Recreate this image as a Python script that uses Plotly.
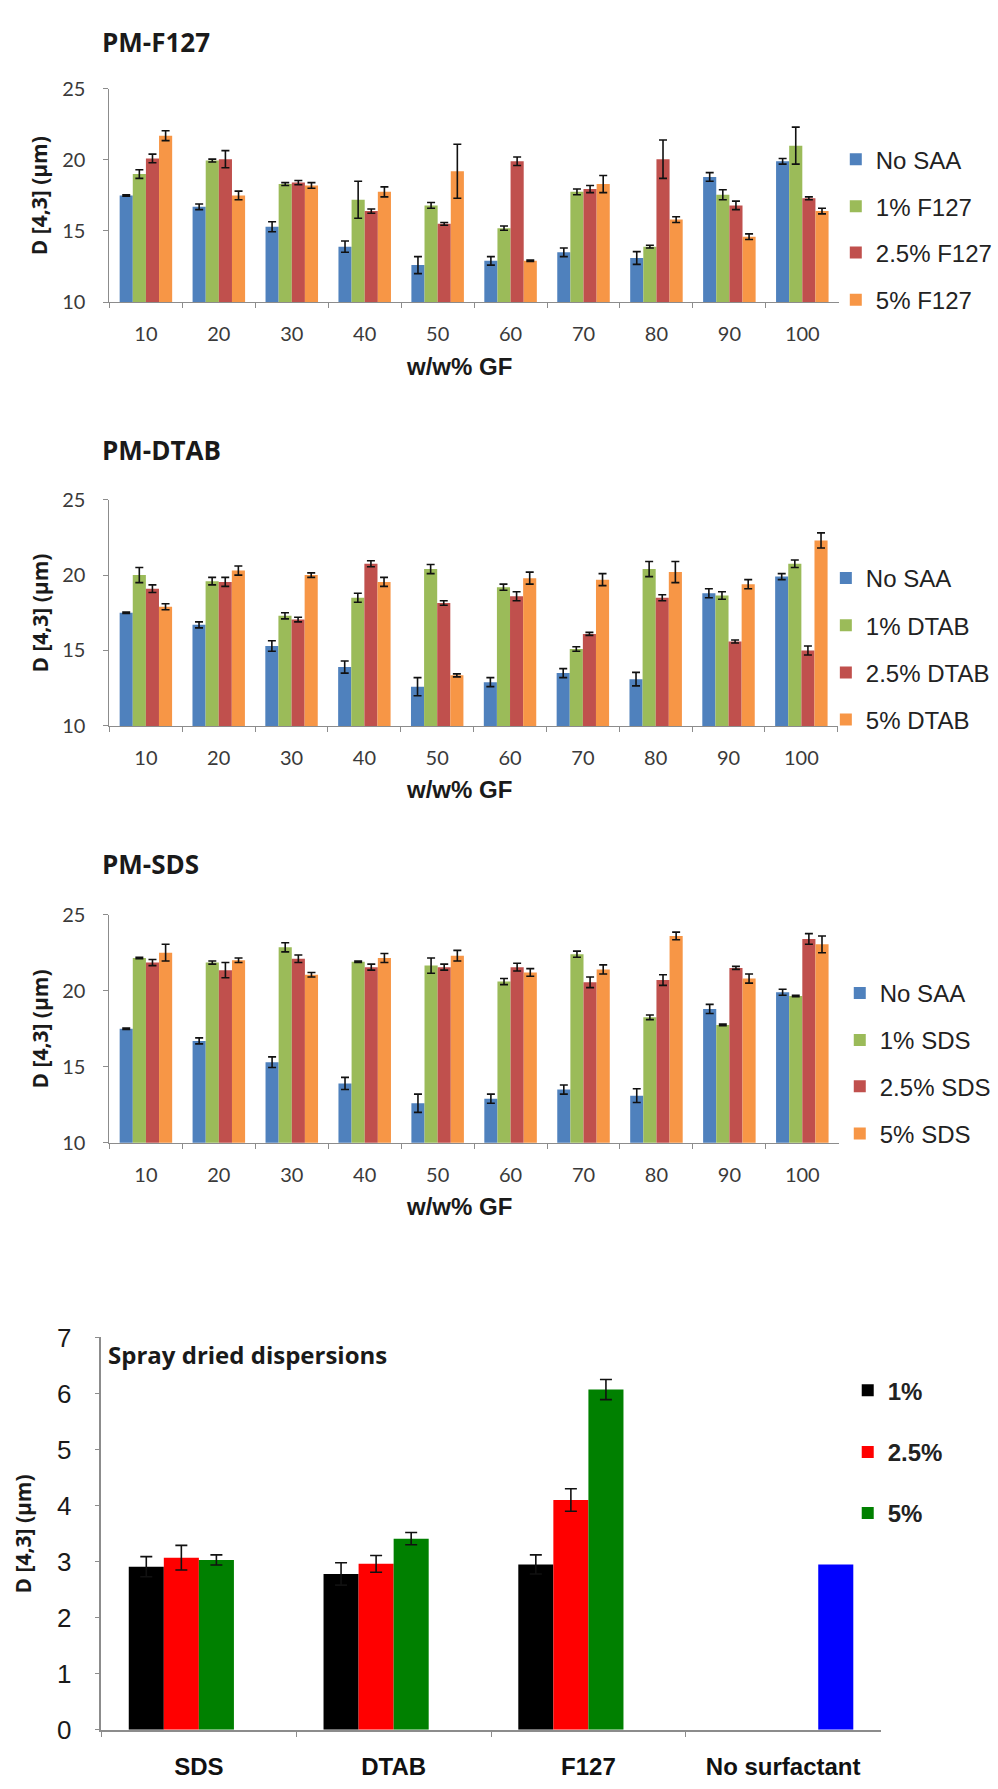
import plotly.graph_objects as go

W, H = 998, 1789

# ---------------- data ----------------
gf_levels = ["10", "20", "30", "40", "50", "60", "70", "80", "90", "100"]

no_saa = [17.5, 16.7, 15.3, 13.9, 12.6, 12.9, 13.5, 13.1, 18.8, 19.9]
no_saa_err = [0.05, 0.2, 0.35, 0.4, 0.6, 0.3, 0.3, 0.45, 0.3, 0.2]

f127_1 = [19.0, 19.95, 18.3, 17.2, 16.8, 15.2, 17.75, 13.9, 17.55, 21.0]
f127_1_err = [0.3, 0.1, 0.1, 1.3, 0.2, 0.15, 0.2, 0.1, 0.35, 1.3]
f127_25 = [20.1, 20.05, 18.4, 16.4, 15.5, 19.9, 17.95, 20.05, 16.8, 17.3]
f127_25_err = [0.3, 0.6, 0.15, 0.15, 0.1, 0.3, 0.25, 1.35, 0.3, 0.1]
f127_5 = [21.7, 17.5, 18.2, 17.75, 19.2, 12.9, 18.3, 15.8, 14.6, 16.4]
f127_5_err = [0.35, 0.3, 0.2, 0.35, 1.9, 0.05, 0.6, 0.2, 0.2, 0.2]

dtab_1 = [20.0, 19.6, 17.3, 18.5, 20.4, 19.2, 15.1, 20.4, 18.65, 20.75]
dtab_1_err = [0.5, 0.25, 0.2, 0.3, 0.3, 0.2, 0.15, 0.5, 0.25, 0.25]
dtab_25 = [19.1, 19.55, 17.05, 20.75, 18.15, 18.6, 16.1, 18.5, 15.6, 15.0]
dtab_25_err = [0.25, 0.3, 0.15, 0.2, 0.15, 0.3, 0.1, 0.2, 0.1, 0.3]
dtab_5 = [17.9, 20.3, 20.0, 19.55, 13.35, 19.8, 19.7, 20.2, 19.4, 22.3]
dtab_5_err = [0.2, 0.3, 0.15, 0.3, 0.1, 0.4, 0.4, 0.7, 0.3, 0.5]

sds_1 = [22.15, 21.85, 22.85, 21.9, 21.65, 20.6, 22.4, 18.25, 17.75, 19.65]
sds_1_err = [0.05, 0.1, 0.3, 0.05, 0.5, 0.2, 0.2, 0.15, 0.05, 0.05]
sds_25 = [21.85, 21.35, 22.1, 21.55, 21.55, 21.55, 20.55, 20.7, 21.5, 23.4]
sds_25_err = [0.2, 0.5, 0.25, 0.2, 0.2, 0.25, 0.35, 0.35, 0.1, 0.35]
sds_5 = [22.5, 22.0, 21.05, 22.15, 22.3, 21.2, 21.4, 23.6, 20.8, 23.05]
sds_5_err = [0.55, 0.15, 0.15, 0.3, 0.35, 0.25, 0.3, 0.25, 0.3, 0.55]

sd_categories = ["SDS", "DTAB", "F127", "No surfactant"]
sd_1 = [2.91, 2.78, 2.95, None]
sd_1_err = [0.18, 0.2, 0.17, 0]
sd_25 = [3.07, 2.96, 4.1, None]
sd_25_err = [0.22, 0.15, 0.2, 0]
sd_5 = [3.03, 3.41, 6.07, None]
sd_5_err = [0.09, 0.11, 0.18, 0]
sd_none = [None, None, None, 2.95]

pm_titles = ["PM-F127", "PM-DTAB", "PM-SDS"]
pm_names = [
    ["No SAA", "1% F127", "2.5% F127", "5% F127"],
    ["No SAA", "1% DTAB", "2.5% DTAB", "5% DTAB"],
    ["No SAA", "1% SDS", "2.5% SDS", "5% SDS"],
]
pm_values = [
    [(no_saa, no_saa_err), (f127_1, f127_1_err), (f127_25, f127_25_err), (f127_5, f127_5_err)],
    [(no_saa, no_saa_err), (dtab_1, dtab_1_err), (dtab_25, dtab_25_err), (dtab_5, dtab_5_err)],
    [(no_saa, no_saa_err), (sds_1, sds_1_err), (sds_25, sds_25_err), (sds_5, sds_5_err)],
]
sd_names = ["1%", "2.5%", "5%"]

# ---------------- styles ----------------
excel_colors = ["#4F81BD", "#9BBB59", "#C0504D", "#F79646"]
sd_colors = ["#000000", "#FF0000", "#008000"]
CAL = "Lato"
BOLDF = "Open Sans"
ARIAL = "Liberation Sans"


def fx(px):
    return px / W


def fy(py):
    return 1 - py / H


# panel pixel geometry: (x0, x1, y_top, y_bottom)
pm_geom = [(110, 843, 75, 292), (110, 842, 493, 723), (110, 843, 915, 1147)]
pm_title_y = [27, 442, 863]
pm_legend_x = [840, 830, 844]
pm_legend_y = [[147, 195, 242, 290], [573, 621, 669, 717], [995, 1043, 1090, 1138]]
sd_geom = (102, 885, 1345, 1744)
sd_legend_x = 852
sd_legend_y = [1399, 1462, 1524]

fig = go.Figure()
annotations = []
layout = {}
leg_count = [0]


def new_legend(x_px, y_px, bold=False):
    leg_count[0] += 1
    key = "legend" if leg_count[0] == 1 else f"legend{leg_count[0]}"
    font = dict(family=ARIAL, size=24, color="#222222")
    if bold:
        font["weight"] = "bold"
    layout[key] = dict(
        x=fx(x_px), xanchor="left", y=fy(y_px), yanchor="middle",
        font=font, bgcolor="rgba(0,0,0,0)", borderwidth=0,
    )
    return key


for p in range(3):
    ax = "" if p == 0 else str(p + 1)
    for j in range(4):
        vals, errs = pm_values[p][j]
        leg = new_legend(pm_legend_x[p], pm_legend_y[p][j])
        fig.add_trace(go.Bar(
            x=gf_levels, y=vals, name=pm_names[p][j],
            marker=dict(color=excel_colors[j], line=dict(width=0)),
            error_y=dict(type="data", array=errs, visible=True, color="#111111",
                         thickness=1.6, width=4),
            xaxis="x" + ax, yaxis="y" + ax, legend=leg,
        ))
    x0, x1, yt, yb = pm_geom[p]
    layout["xaxis" + ax] = dict(
        domain=[fx(x0), fx(x1)], anchor="y" + ax, type="category",
        showline=True, linecolor="#8c8c8c", linewidth=1,
        ticks="outside", tickson="boundaries", ticklen=5, tickcolor="#8c8c8c",
        tickfont=dict(family=CAL, size=20, color="#3a3a3a"),
        ticklabelstandoff=14, showgrid=False, fixedrange=True,
    )
    layout["yaxis" + ax] = dict(
        domain=[fy(yb), fy(yt)], anchor="x" + ax, range=[10, 25], dtick=5,
        showline=True, linecolor="#8c8c8c", linewidth=1,
        ticks="outside", ticklen=5, tickcolor="#8c8c8c",
        tickfont=dict(family=CAL, size=20, color="#3a3a3a"),
        ticklabelstandoff=14, showgrid=False, zeroline=False, fixedrange=True,
    )
    annotations.append(dict(
        text=f"<b>{pm_titles[p]}</b>", x=fx(101), y=fy(pm_title_y[p]),
        xref="paper", yref="paper", xanchor="left", yanchor="middle",
        showarrow=False, font=dict(family=BOLDF, size=26, color="#1a1a1a"),
    ))
    annotations.append(dict(
        text="<b>w/w% GF</b>", x=fx(461), y=fy(yb + 65),
        xref="paper", yref="paper", xanchor="center", yanchor="middle",
        showarrow=False, font=dict(family=ARIAL, size=24, color="#1a1a1a"),
    ))
    annotations.append(dict(
        text="<b>D [4,3] (µm)</b>", x=fx(40), y=fy((yt + yb) / 2), textangle=-90,
        xref="paper", yref="paper", xanchor="center", yanchor="middle",
        showarrow=False, font=dict(family=BOLDF, size=21, color="#1a1a1a"),
    ))

# spray dried panel
sd_series = [(sd_1, sd_1_err), (sd_25, sd_25_err), (sd_5, sd_5_err)]
for j in range(3):
    vals, errs = sd_series[j]
    leg = new_legend(sd_legend_x, sd_legend_y[j], bold=True)
    fig.add_trace(go.Bar(
        x=sd_categories, y=vals, name=sd_names[j],
        marker=dict(color=sd_colors[j], line=dict(width=0)),
        error_y=dict(type="data", array=errs, visible=True, color="#111111",
                     thickness=1.6, width=6),
        xaxis="x4", yaxis="y4", legend=leg,
    ))
fig.add_trace(go.Bar(
    x=sd_categories, y=sd_none, name="No surfactant",
    marker=dict(color="#0000FF", line=dict(width=0)),
    xaxis="x4", yaxis="y4", showlegend=False,
))

x0, x1, yt, yb = sd_geom
layout["xaxis4"] = dict(
    domain=[fx(x0), fx(x1)], anchor="y4", type="category",
    showline=True, linecolor="#8c8c8c", linewidth=1.5,
    ticks="outside", tickson="boundaries", ticklen=5, tickcolor="#8c8c8c",
    tickfont=dict(family=ARIAL, size=24, color="#111111", weight="bold"),
    ticklabelstandoff=15, showgrid=False, fixedrange=True,
)
layout["yaxis4"] = dict(
    domain=[fy(yb), fy(yt)], anchor="x4", range=[0, 7], dtick=1,
    showline=True, linecolor="#8c8c8c", linewidth=1.5,
    ticks="outside", ticklen=5, tickcolor="#8c8c8c",
    tickfont=dict(family=ARIAL, size=26, color="#1a1a1a"),
    ticklabelstandoff=18, showgrid=False, zeroline=False, fixedrange=True,
)
annotations.append(dict(
    text="<b>Spray dried dispersions</b>", x=fx(107), y=fy(1362),
    xref="paper", yref="paper", xanchor="left", yanchor="middle",
    showarrow=False, font=dict(family=BOLDF, size=24, color="#1a1a1a"),
))
annotations.append(dict(
    text="<b>D [4,3] (µm)</b>", x=fx(23), y=fy((yt + yb) / 2), textangle=-90,
    xref="paper", yref="paper", xanchor="center", yanchor="middle",
    showarrow=False, font=dict(family=BOLDF, size=21, color="#1a1a1a"),
))

fig.update_layout(
    width=W, height=H, margin=dict(l=0, r=0, t=0, b=0),
    paper_bgcolor="white", plot_bgcolor="white",
    barmode="group", bargap=0.28, bargroupgap=0,
    annotations=annotations, **layout,
)

fig.write_html("out.html")
